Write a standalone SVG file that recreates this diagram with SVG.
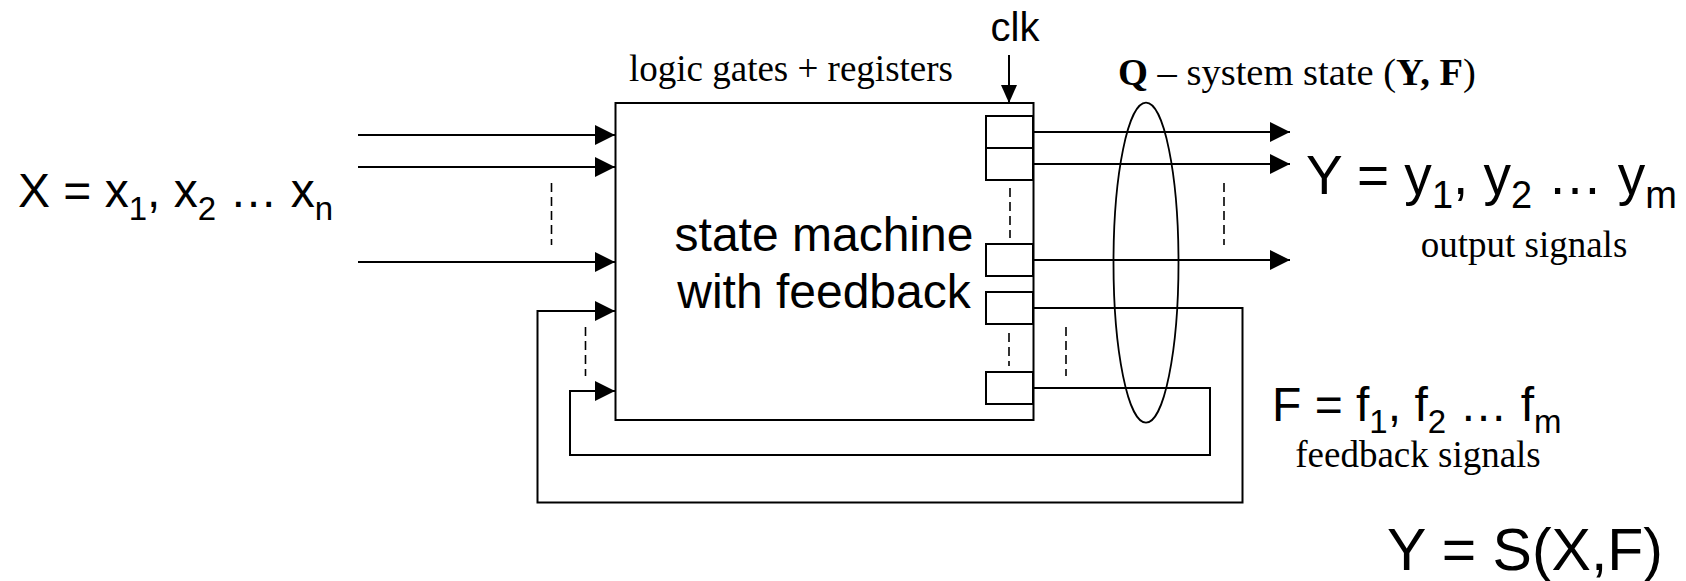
<svg xmlns="http://www.w3.org/2000/svg" width="1686" height="581" viewBox="0 0 1686 581">
<style>
.ln{fill:none;stroke:#000;stroke-width:2}
.dash{fill:none;stroke:#000;stroke-width:1.6;stroke-dasharray:9,5}
.reg{fill:#fff;stroke:#000;stroke-width:2}
.sans{font-family:"Liberation Sans",Arial,sans-serif;fill:#000}
.serif{font-family:"Liberation Serif","Times New Roman",serif;fill:#000}
.big{font-size:48px}
.sub{font-size:33px}
.lab{font-size:37px}
</style>
<defs>
<marker id="arr" markerWidth="20" markerHeight="20" refX="20" refY="10" orient="auto" markerUnits="userSpaceOnUse"><path d="M0,0 L20,10 L0,20 z" fill="#000"/></marker>
<marker id="arrs" markerWidth="18" markerHeight="16" refX="18" refY="8" orient="auto" markerUnits="userSpaceOnUse"><path d="M0,0 L18,8 L0,16 z" fill="#000"/></marker>
</defs>
<g id="connectors">
<line class="ln" x1="358" y1="135" x2="615" y2="135" marker-end="url(#arr)"/>
<line class="ln" x1="358" y1="167" x2="615" y2="167" marker-end="url(#arr)"/>
<line class="ln" x1="358" y1="262" x2="615" y2="262" marker-end="url(#arr)"/>
<line class="dash" x1="551.5" y1="183" x2="551.5" y2="245"/>
<line class="ln" x1="1009" y1="55" x2="1009" y2="103" marker-end="url(#arrs)"/>
<line class="ln" x1="1033" y1="132" x2="1290" y2="132" marker-end="url(#arr)"/>
<line class="ln" x1="1033" y1="164" x2="1290" y2="164" marker-end="url(#arr)"/>
<line class="ln" x1="1033" y1="260" x2="1290" y2="260" marker-end="url(#arr)"/>
<line class="dash" x1="1224" y1="183" x2="1224" y2="245"/>
<path class="ln" d="M1033,308 H1242.5 V502.5 H537.5 V311 H615" marker-end="url(#arr)"/>
<path class="ln" d="M1033,388 H1210 V455 H570 V391 H615" marker-end="url(#arr)"/>
<line class="dash" x1="585.5" y1="327" x2="585.5" y2="376"/>
<line class="dash" x1="1066" y1="327" x2="1066" y2="376"/>
<ellipse cx="1146" cy="262.7" rx="32.5" ry="160" fill="none" stroke="#000" stroke-width="1.8"/>
</g>
<g id="machine">
<rect class="ln" x="615.5" y="103" width="418" height="317"/>
<text class="sans big" x="824" y="251" text-anchor="middle">state machine</text>
<text class="sans big" x="824" y="308" text-anchor="middle">with feedback</text>
</g>
<g id="registers">
<rect class="reg" x="986" y="116" width="47" height="32"/>
<rect class="reg" x="986" y="148" width="47" height="32"/>
<rect class="reg" x="986" y="244" width="47" height="32"/>
<rect class="reg" x="986" y="292" width="47" height="32"/>
<rect class="reg" x="986" y="372" width="47" height="32"/>
<line class="dash" x1="1010" y1="188" x2="1010" y2="238"/>
<line class="dash" x1="1009" y1="333" x2="1009" y2="366"/>
</g>
<g id="labels">
<text class="serif lab" x="629" y="81">logic gates + registers</text>
<text class="sans" font-size="40" x="1015" y="41" text-anchor="middle">clk</text>
<text class="serif" font-size="38.5" x="1118" y="85"><tspan font-weight="bold">Q</tspan> – system state (<tspan font-weight="bold">Y, F</tspan>)</text>
<text class="sans big" x="18" y="207">X = x<tspan class="sub" dy="13">1</tspan><tspan dy="-13">, x</tspan><tspan class="sub" dy="13">2</tspan><tspan dy="-13"> … x</tspan><tspan class="sub" dy="13">n</tspan></text>
<text class="sans" font-size="55" x="1306" y="194">Y = y<tspan font-size="38" dy="14">1</tspan><tspan dy="-14">, y</tspan><tspan font-size="38" dy="14">2</tspan><tspan dy="-14"> … y</tspan><tspan font-size="38" dy="14">m</tspan></text>
<text class="serif lab" x="1524" y="257" text-anchor="middle">output signals</text>
<text class="sans big" x="1272" y="421">F = f<tspan class="sub" dy="12">1</tspan><tspan dy="-12">, f</tspan><tspan class="sub" dy="12">2</tspan><tspan dy="-12"> … f</tspan><tspan class="sub" dy="12">m</tspan></text>
<text class="serif lab" x="1418" y="467" text-anchor="middle">feedback signals</text>
<text class="sans" font-size="59" x="1387" y="570">Y = S(X,F)</text>
</g>
</svg>
